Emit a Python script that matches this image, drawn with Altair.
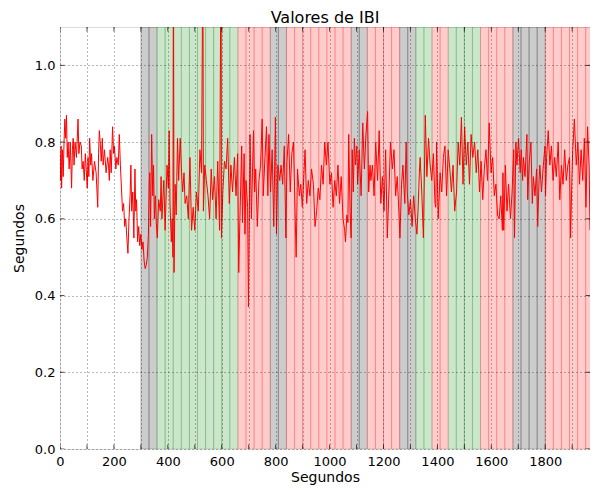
import altair as alt
import pandas as pd

# ---- IBI series (seconds) ----
time_s = [
    0, 2, 4, 6, 9, 12, 15, 18, 21, 24, 27, 30, 34, 38, 43, 46, 49, 52, 56, 61,
    67, 70, 74, 79, 82, 86, 90, 94, 98, 101, 104, 107, 110, 114, 117, 122, 128, 134, 140, 143,
    146, 150, 153, 157, 160, 165, 171, 177, 180, 183, 186, 190, 195, 199, 202, 207, 211, 216,
    220, 224, 228, 232, 236, 240, 244, 248, 252, 256, 260, 263, 266, 270, 274, 278, 281, 284,
    288, 292, 296, 300, 304, 308, 312, 316, 320, 324, 328, 331,
    333, 336, 340, 344, 347, 350, 354, 357, 361, 366, 372, 375, 378, 385, 390, 397, 402, 405,
    408, 413, 416, 419, 421, 423, 427, 431, 436, 440, 446, 451, 455, 460, 464, 470, 476, 482,
    488, 494, 500, 506, 513, 519, 525, 530, 532, 537, 543, 549, 555, 561, 566, 573, 579, 585,
    592, 597, 599, 604, 610, 616, 622, 628, 634, 640, 647, 653, 659, 663,
    667, 674, 677, 683, 686, 690, 696, 699, 705, 710, 714, 718, 722, 726, 732, 738, 744, 750,
    754, 759, 766, 771, 775, 781, 787, 793, 799, 803, 808, 815, 820, 826, 832, 838, 842, 848,
    854, 860, 866, 872, 876, 881, 888, 893, 899, 909, 915, 921, 927, 933, 940, 946, 952, 958,
    964, 970, 976, 982, 988,
    994, 1001, 1007, 1013, 1019, 1025, 1031, 1037, 1043, 1050, 1056, 1059, 1064, 1068, 1071,
    1076, 1080, 1084, 1088, 1092, 1096, 1101, 1104, 1110, 1117, 1123, 1129, 1135, 1141, 1145,
    1150, 1153, 1159, 1165, 1171, 1178, 1184, 1190, 1196, 1202, 1208, 1214, 1220, 1226, 1233,
    1239, 1245, 1251, 1257, 1261, 1267, 1272, 1279, 1284, 1288, 1294, 1300, 1306, 1312, 1318,
    1324, 1328, 1333, 1336, 1342, 1348, 1355, 1361, 1367, 1373, 1379, 1385, 1391, 1394, 1397,
    1403, 1410, 1416, 1422, 1428, 1434, 1440, 1446, 1452, 1458, 1464, 1471, 1477, 1483, 1489,
    1495, 1501, 1507, 1513, 1519, 1525, 1531, 1538, 1544, 1550, 1556, 1562, 1568, 1574, 1580,
    1586, 1592, 1599, 1605, 1611, 1617, 1623, 1629, 1635, 1641,
    1643, 1646, 1652, 1658, 1664, 1671, 1677, 1683, 1686, 1691, 1695, 1701, 1707, 1711, 1716,
    1719, 1725, 1732, 1735, 1740, 1747, 1752, 1756, 1762, 1768, 1772, 1777, 1780, 1786, 1793,
    1799, 1801, 1805, 1811, 1817, 1823, 1829, 1835, 1841, 1848, 1854, 1860, 1866, 1872, 1878,
    1884, 1890, 1894, 1899, 1902, 1908, 1915, 1921, 1927, 1933, 1939, 1945, 1951, 1957, 1963, 1966,
]
ibi_s = [
    0.77, 0.70, 0.79, 0.68, 0.78, 0.71, 0.80, 0.86, 0.81, 0.87, 0.76, 0.80, 0.73, 0.80, 0.68, 0.78, 0.81, 0.74, 0.80, 0.76,
    0.86, 0.77, 0.80, 0.79, 0.73, 0.75, 0.70, 0.77, 0.72, 0.68, 0.76, 0.71, 0.81, 0.74, 0.77, 0.70, 0.75, 0.72, 0.63, 0.77,
    0.83, 0.79, 0.75, 0.81, 0.74, 0.78, 0.72, 0.76, 0.74, 0.70, 0.78, 0.72, 0.84, 0.77, 0.79, 0.73, 0.76, 0.74,
    0.82, 0.74, 0.68, 0.62, 0.64, 0.58, 0.60, 0.55, 0.51, 0.60, 0.66, 0.74, 0.62, 0.67, 0.55, 0.73, 0.62, 0.65,
    0.54, 0.58, 0.53, 0.56, 0.52, 0.54, 0.49, 0.47, 0.48, 0.50, 0.56, 0.69,
    0.72, 0.58, 0.82, 0.66, 0.74, 0.60, 0.66, 0.59, 0.55, 0.65, 0.62, 0.71, 0.60, 0.70, 0.57, 0.74, 0.68, 0.83,
    0.64, 0.54, 0.60, 0.50, 1.30, 0.46, 0.69, 0.61, 0.81, 0.70, 0.81, 0.72, 0.67, 0.72, 0.64, 0.66, 0.60, 0.76,
    0.57, 0.63, 0.57, 0.67, 0.62, 0.78, 0.72, 1.30, 0.62, 0.74, 0.70, 0.66, 0.60, 0.73, 0.65, 0.71, 0.60, 0.75,
    0.57, 1.30, 0.55, 0.67, 0.75, 0.73, 0.81, 0.64, 0.74, 0.67, 0.76, 0.66, 0.77, 0.46,
    0.59, 0.79, 0.59, 0.77, 0.56, 0.70, 0.63, 0.37, 0.82, 0.60, 0.72, 0.83, 0.67, 0.73, 0.58, 0.70, 0.74, 0.86,
    0.66, 0.74, 0.84, 0.66, 0.82, 0.67, 0.78, 0.58, 0.865, 0.56, 0.74, 0.70, 0.74, 0.69, 0.79, 0.55, 0.75, 0.82,
    0.67, 0.77, 0.80, 0.62, 0.50, 0.73, 0.66, 0.69, 0.63, 0.78, 0.64, 0.70, 0.66, 0.73, 0.69, 0.58, 0.62, 0.68,
    0.65, 0.74, 0.69, 0.80, 0.74,
    0.80, 0.69, 0.72, 0.63, 0.70, 0.66, 0.74, 0.64, 0.71, 0.60, 0.57, 0.54, 0.61, 0.59, 0.82,
    0.62, 0.55, 0.78, 0.67, 0.81, 0.74, 0.79, 0.69, 0.78, 0.66, 0.85, 0.73, 0.82, 0.88, 0.67,
    0.74, 0.70, 0.74, 0.66, 0.80, 0.70, 0.83, 0.64, 0.71, 0.62, 0.78, 0.55, 0.67, 0.80, 0.73,
    0.78, 0.66, 0.71, 0.62, 0.55, 0.69, 0.74, 0.64, 0.80, 0.67, 0.61, 0.65, 0.58, 0.66, 0.60,
    0.56, 0.62, 0.72, 0.76, 0.67, 0.55, 0.87, 0.71, 0.81, 0.74, 0.70, 0.77, 0.64, 0.63, 0.80,
    0.60, 0.72, 0.67, 0.76, 0.79, 0.66, 0.78, 0.73, 0.67, 0.74, 0.62, 0.67, 0.80, 0.74, 0.865,
    0.69, 0.84, 0.74, 0.80, 0.69, 0.82, 0.76, 0.80, 0.72, 0.78, 0.67, 0.75, 0.65, 0.73, 0.78,
    0.70, 0.85, 0.72, 0.76, 0.66, 0.69, 0.61, 0.60, 0.66, 0.57,
    0.72, 0.57, 0.74, 0.62, 0.69, 0.60, 0.67, 0.78, 0.55, 0.80, 0.74, 0.81, 0.72, 0.78, 0.70,
    0.76, 0.71, 0.82, 0.65, 0.74, 0.80, 0.64, 0.71, 0.66, 0.73, 0.58, 0.70, 0.74, 0.67, 0.74,
    0.79, 0.66, 0.76, 0.83, 0.74, 0.79, 0.70, 0.76, 0.71, 0.80, 0.65, 0.74, 0.69, 0.78, 0.70,
    0.74, 0.76, 0.55, 0.71, 0.78, 0.86, 0.74, 0.80, 0.69, 0.78, 0.70, 0.81, 0.63, 0.84, 0.73, 0.57,
]

# ---- 30-second windows classified by state ----
seg_start = [300, 360, 660, 780, 840, 1080, 1140, 1260, 1320, 1380, 1440, 1560, 1680, 1800]
seg_end = [360, 660, 780, 840, 1080, 1140, 1260, 1320, 1380, 1440, 1560, 1680, 1800, 1980]
seg_state = ["gris", "verde", "rojo", "gris", "rojo", "gris", "rojo", "gris",
             "verde", "rojo", "verde", "rojo", "gris", "rojo"]
window_len = 30

x_ticks = list(range(0, 2000, 100))
y_ticks = [0.0, 0.2, 0.4, 0.6, 0.8, 1.0]

rows = []
for s, e, st in zip(seg_start, seg_end, seg_state):
    w = s
    while w < e:
        rows.append({"start": w, "end": w + window_len, "state": st})
        w += window_len
bands_df = pd.DataFrame(rows)
line_df = pd.DataFrame({"t": time_s, "v": ibi_s})
xt_df = pd.DataFrame({"t": x_ticks})
yt_df = pd.DataFrame({"v": y_ticks})

X_MAX = 1966
xscale = alt.Scale(domain=[0, X_MAX], nice=False, zero=False)
yscale = alt.Scale(domain=[0, 1.1], nice=False, zero=False)
state_scale = alt.Scale(domain=["gris", "verde", "rojo"], range=["#000000", "#008000", "#ff0000"])

FONT = "DejaVu Sans"
xaxis = alt.Axis(values=x_ticks, format="d", labelExpr="datum.value % 200 == 0 ? datum.label : ''",
                 title="Segundos", grid=True, gridDash=[1, 3], gridColor="#000000", gridOpacity=0.55,
                 gridWidth=1, ticks=False, domain=False, labelFont=FONT, labelFontSize=13,
                 labelColor="black", labelPadding=6, labelOverlap=False, labelFlush=False,
                 titleFont=FONT, titleFontSize=14, titleFontWeight="normal", titleColor="black",
                 titlePadding=2, zindex=1)
yaxis = alt.Axis(values=y_ticks, format=".1f", title="Segundos", grid=True, gridDash=[1, 3],
                 gridColor="#000000", gridOpacity=0.55, gridWidth=1, ticks=False, domain=False,
                 labelFont=FONT, labelFontSize=13, labelColor="black", labelPadding=5,
                 labelOverlap=False, labelFlush=False, titleFont=FONT, titleFontSize=14,
                 titleFontWeight="normal", titleColor="black", titlePadding=8, zindex=1)

line = alt.Chart(line_df).mark_line(color="#ff0000", strokeWidth=1, clip=True).encode(
    x=alt.X("t:Q", scale=xscale, axis=xaxis, title="Segundos"),
    y=alt.Y("v:Q", scale=yscale, axis=yaxis, title="Segundos"),
)

bands = alt.Chart(bands_df).mark_rect(fillOpacity=0.2, strokeOpacity=0.2, strokeWidth=1, clip=True).encode(
    x=alt.X("start:Q", scale=xscale, axis=xaxis, title="Segundos"),
    x2="end:Q",
    y=alt.datum(0, scale=yscale, axis=yaxis, title="Segundos"),
    y2=alt.datum(1.1),
    fill=alt.Fill("state:N", scale=state_scale, legend=None),
    stroke=alt.Stroke("state:N", scale=state_scale, legend=None),
)

tick_kw = dict(size=9, thickness=1, color="black", clip=True)
xt_bottom = alt.Chart(xt_df).mark_tick(orient="vertical", **tick_kw).encode(
    x=alt.X("t:Q", scale=xscale, axis=xaxis, title="Segundos"),
    y=alt.datum(0, scale=yscale, axis=yaxis, title="Segundos"))
xt_top = alt.Chart(xt_df).mark_tick(orient="vertical", **tick_kw).encode(
    x=alt.X("t:Q", scale=xscale, axis=xaxis, title="Segundos"),
    y=alt.datum(1.1, scale=yscale, axis=yaxis, title="Segundos"))
yt_left = alt.Chart(yt_df).mark_tick(orient="horizontal", **tick_kw).encode(
    y=alt.Y("v:Q", scale=yscale, axis=yaxis, title="Segundos"),
    x=alt.datum(0, scale=xscale, axis=xaxis, title="Segundos"))
yt_right = alt.Chart(yt_df).mark_tick(orient="horizontal", **tick_kw).encode(
    y=alt.Y("v:Q", scale=yscale, axis=yaxis, title="Segundos"),
    x=alt.datum(X_MAX, scale=xscale, axis=xaxis, title="Segundos"))

chart = alt.layer(bands, line, xt_bottom, xt_top, yt_left, yt_right).properties(
    width=530, height=422,
    title=alt.TitleParams("Valores de IBI", font=FONT, fontSize=16, fontWeight="normal",
                          color="black", offset=1, anchor="middle"),
    autosize=alt.AutoSizeParams(type="none"),
    padding={"left": 52, "top": 19, "right": 0, "bottom": 38},
).configure_view(stroke="black", strokeWidth=1).configure(background="white")

chart.save("out.html", embed_options={"renderer": "svg", "actions": False})
